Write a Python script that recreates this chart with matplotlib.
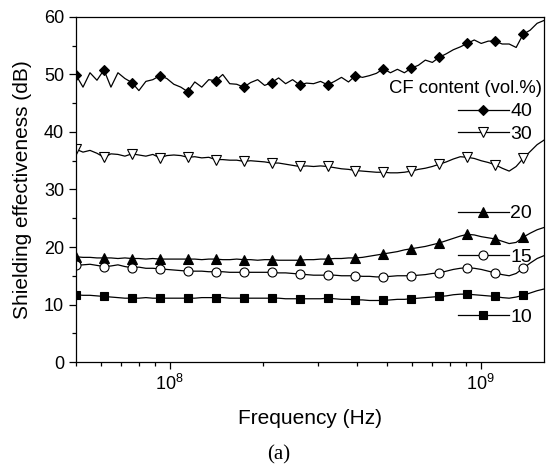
import numpy as np
import matplotlib
matplotlib.use("Agg")
from matplotlib import pyplot as plt
from matplotlib.legend import Legend

plt.rcParams['font.family'] = ['Liberation Sans', 'DejaVu Sans']
plt.rcParams['mathtext.default'] = 'regular'

# frequency sweep (log spaced, 68 points from 50 MHz to 1.6 GHz)
freq = np.logspace(np.log10(5e7), np.log10(1.6e9), 68)

se_40 = [49.9, 47.8, 50.3, 49.0, 50.8, 47.8, 50.3, 49.3, 48.6, 47.2, 48.8, 49.1,
         49.8, 49.3, 48.3, 47.8, 47.0, 48.7, 47.8, 49.1, 48.9, 50.0, 48.4, 48.3,
         47.8, 48.6, 49.1, 48.1, 48.6, 49.4, 48.4, 49.1, 48.2, 48.5, 48.4, 48.8,
         48.2, 48.8, 49.5, 48.7, 49.8, 49.5, 49.8, 50.2, 51.0, 50.3, 50.9, 50.3,
         51.1, 51.6, 52.5, 52.1, 53.0, 53.6, 54.3, 54.8, 55.4, 56.0, 55.4, 55.8,
         55.8, 55.3, 55.3, 54.7, 57.0, 57.7, 58.9, 59.4]
se_30 = [37.0, 36.5, 36.8, 36.3, 35.6, 36.2, 36.1, 35.8, 36.2, 36.0, 35.8, 36.1,
         35.5, 35.9, 36.0, 35.9, 35.6, 35.7, 35.5, 35.6, 35.2, 35.2, 35.1, 35.1,
         34.9, 35.0, 34.9, 34.8, 34.6, 34.6, 34.4, 34.2, 34.0, 34.1, 34.0, 34.1,
         34.0, 33.8, 33.6, 33.5, 33.3, 33.2, 33.1, 33.0, 33.0, 32.9, 32.9, 33.0,
         33.2, 33.5, 33.7, 34.0, 34.4, 34.8, 35.3, 35.7, 35.6, 35.4, 35.0, 34.7,
         34.3, 33.7, 33.2, 34.0, 35.4, 36.6, 37.8, 38.6]
se_20 = [18.3, 18.2, 18.2, 18.1, 18.1, 18.1, 18.0, 18.1, 18.0, 18.0, 17.9, 18.0,
         17.9, 17.9, 17.9, 17.9, 17.9, 17.9, 17.8, 17.9, 17.9, 17.8, 17.8, 17.9,
         17.8, 17.8, 17.7, 17.8, 17.8, 17.7, 17.7, 17.7, 17.7, 17.8, 17.8, 17.9,
         17.9, 18.0, 18.0, 18.1, 18.1, 18.2, 18.4, 18.6, 18.8, 19.0, 19.2, 19.5,
         19.7, 19.9, 20.1, 20.4, 20.7, 21.1, 21.5, 21.9, 22.2, 22.1, 21.8, 21.6,
         21.4, 21.0, 20.6, 20.8, 21.7, 22.4, 23.0, 23.4]
se_15 = [16.8, 16.9, 17.0, 16.8, 16.6, 16.7, 16.9, 16.6, 16.4, 16.5, 16.3, 16.3,
         16.2, 16.1, 16.0, 15.9, 15.8, 15.8, 15.8, 15.7, 15.7, 15.7, 15.6, 15.6,
         15.6, 15.6, 15.6, 15.6, 15.6, 15.5, 15.5, 15.4, 15.3, 15.2, 15.1, 15.1,
         15.1, 15.1, 15.0, 15.0, 15.0, 14.9, 14.9, 14.8, 14.8, 14.9, 15.0, 15.0,
         15.0, 15.1, 15.2, 15.4, 15.5, 15.8, 16.1, 16.3, 16.4, 16.3, 16.1, 15.8,
         15.5, 15.2, 15.0, 15.4, 16.3, 17.2, 18.0, 18.5]
se_10 = [11.7, 11.6, 11.6, 11.5, 11.4, 11.3, 11.2, 11.1, 11.1, 11.1, 11.2, 11.1,
         11.1, 11.1, 11.1, 11.1, 11.1, 11.1, 11.2, 11.2, 11.2, 11.2, 11.1, 11.1,
         11.1, 11.1, 11.1, 11.1, 11.1, 11.1, 11.0, 11.0, 11.0, 11.0, 11.0, 11.0,
         11.1, 11.0, 10.9, 10.9, 10.8, 10.8, 10.7, 10.7, 10.7, 10.8, 10.9, 10.9,
         11.0, 11.1, 11.2, 11.3, 11.4, 11.5, 11.7, 11.8, 11.8, 11.7, 11.6, 11.5,
         11.4, 11.2, 11.1, 11.3, 11.6, 12.0, 12.4, 12.7]

labels = ["40", "30", "20", "15", "10"]
series = [se_40, se_30, se_20, se_15, se_10]
markers = ["D", "v", "^", "o", "s"]
msizes = [5.5, 7, 7, 6.5, 6]
filled = [True, False, True, False, True]
# vertical placement (axes fraction) of each key, next to its curve
key_y = [0.726, 0.661, 0.430, 0.304, 0.130]

fig = plt.figure(figsize=(5.52, 4.69), dpi=100)
ax = fig.add_axes([0.1377, 0.2281, 0.848, 0.7357])

lines = []
for y, m, ms, f in zip(series, markers, msizes, filled):
    ln, = ax.plot(freq, y, color="black", lw=0.9, marker=m, ms=ms, markevery=4,
                  mfc="black" if f else "white", mec="black", mew=0.8)
    lines.append(ln)

ax.set_xscale("log")
ax.set_xlim(5e7, 1.6e9)
ax.set_ylim(0, 60)
ax.set_yticks(range(0, 61, 10))
ax.set_yticks(range(5, 60, 10), minor=True)
ax.tick_params(which="both", direction="out", top=False, right=False, labelsize=13)
ax.tick_params(which="major", length=5, width=0.9)
ax.tick_params(which="minor", length=3, width=0.9)
for s in ax.spines.values():
    s.set_linewidth(0.9)

ax.set_xlabel("Frequency (Hz)", fontsize=15)
ax.set_ylabel("Shielding effectiveness (dB)", fontsize=15)
ax.xaxis.set_label_coords(0.5, -0.135)
ax.yaxis.set_label_coords(-0.095, 0.5)

ax.text(0.995, 0.794, "CF content (vol.%)", transform=ax.transAxes,
        ha="right", va="center", fontsize=13.3)
for ln, lab, ky in zip(lines, labels, key_y):
    leg = Legend(ax, [ln], [lab], loc="center left", bbox_to_anchor=(0.816, ky),
                 frameon=False, numpoints=1, handlelength=2.6, handletextpad=0.1,
                 borderpad=0, borderaxespad=0, fontsize=14)
    ax.add_artist(leg)

fig.text(0.505, 0.03, "(a)", ha="center", va="center", fontsize=15,
         family="Liberation Serif")

fig.savefig("out.png", dpi=100)
